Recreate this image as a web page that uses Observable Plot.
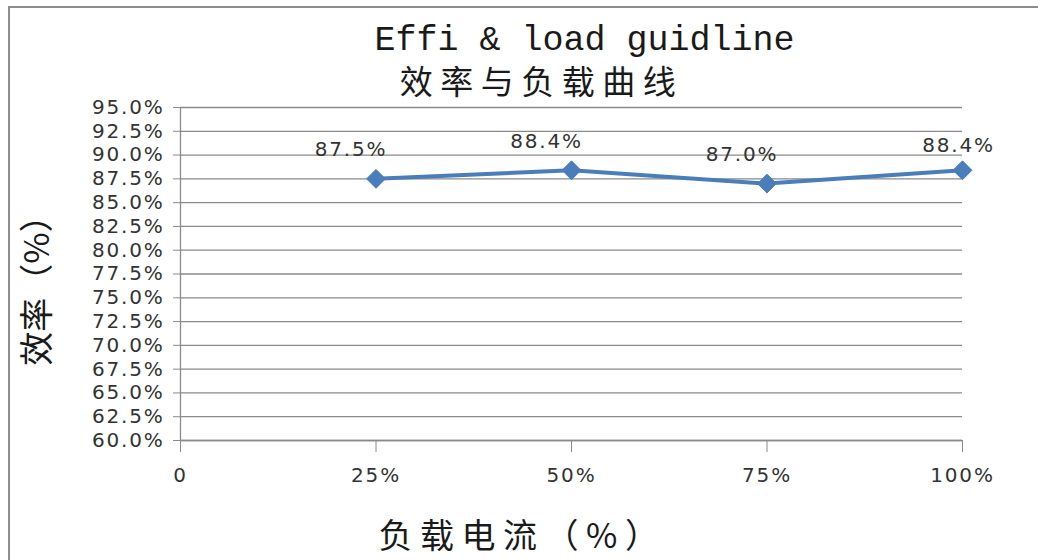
<!DOCTYPE html>
<html>
<head>
<meta charset="utf-8">
<script src="https://cdn.jsdelivr.net/npm/d3@7"></script>
<script src="https://cdn.jsdelivr.net/npm/@observablehq/plot@0.6"></script>
<style>
  html, body { margin: 0; padding: 0; background: #fff; }
  #wrap { position: relative; width: 1038px; height: 560px; overflow: hidden; }
  #frame { position: absolute; left: 8px; top: 6px; width: 1100px; height: 600px; border: 2px solid #8e8e8e; box-sizing: border-box; }
  #chart { position: absolute; left: 0; top: 0; }
  #chart svg text { letter-spacing: 1.8px; }
  #chart svg text.hsp { letter-spacing: 7.5px; }
  #chart svg text.nosp { letter-spacing: 0px; }
</style>
</head>
<body>
<div id="wrap"><div id="frame"></div><div id="chart"></div></div>
<script>
// ---- data ----
const loads = [25, 50, 75, 100];
const effs = [87.5, 88.4, 87.0, 88.4];
const xTicks = [0, 25, 50, 75, 100];
const xTickLabels = ["0", "25%", "50%", "75%", "100%"];
const yTicks = [60, 62.5, 65, 67.5, 70, 72.5, 75, 77.5, 80, 82.5, 85, 87.5, 90, 92.5, 95];
const title = "Effi & load guidline";
const subtitle = "效率与负载曲线";
const xLabel = "负载电流（%）";
const yLabel = "效率（%）";

const data = loads.map((l, i) => ({load: l, eff: effs[i], label: effs[i].toFixed(1) + "%"}));

const grid = "#8a8a8a";
const textColor = "#333333";
const blue = "#4A7EBB";

const chart = Plot.plot({
  width: 1038,
  height: 560,
  marginLeft: 180,
  marginRight: 76,
  marginTop: 107,
  marginBottom: 120,
  x: {domain: [0, 100]},
  y: {domain: [60, 95]},
  style: {fontFamily: "DejaVu Sans", fontSize: "20px", color: textColor, background: "transparent"},
  marks: [
    Plot.gridY(yTicks, {stroke: grid, strokeOpacity: 1, strokeWidth: 1.3}),
    Plot.ruleY([60], {stroke: grid, strokeWidth: 1.3}),
    Plot.ruleX([0], {stroke: grid, strokeWidth: 1.3}),
    Plot.axisY(yTicks, {
      tickSize: 7, tickPadding: 9, label: null,
      tickFormat: d => d.toFixed(1) + "%",
      stroke: grid, fill: textColor, fontSize: 20
    }),
    Plot.axisX(xTicks, {
      tickSize: 12, tickPadding: 15, label: null,
      tickFormat: d => xTickLabels[xTicks.indexOf(d)],
      stroke: grid, fill: textColor, fontSize: 20
    }),
    Plot.line(data, {x: "load", y: "eff", stroke: blue, strokeWidth: 4}),
    Plot.dot(data, {x: "load", y: "eff", symbol: "diamond2", r: 8.5, fill: blue, stroke: blue, strokeWidth: 1}),
    Plot.text(data.filter(d => d.load < 100), {x: "load", y: "eff", text: "label", dx: -25, dy: -29, fill: textColor, fontSize: 20}),
    Plot.text(data.filter(d => d.load === 100), {x: "load", y: "eff", text: "label", dx: -4, dy: -25, fill: textColor, fontSize: 20}),
    Plot.text([title], {text: d => d, frameAnchor: "top", lineAnchor: "middle", textAnchor: "middle", dx: 13, dy: -69, fontFamily: "Liberation Mono", fontSize: 35, fill: "#1a1a1a"}),
    Plot.text([subtitle], {text: d => d, frameAnchor: "top", lineAnchor: "middle", textAnchor: "middle", dx: -30, dy: -24, fontFamily: "Noto Sans CJK SC", fontSize: 33, fill: "#1a1a1a"}),
    Plot.text([xLabel], {text: d => d, frameAnchor: "bottom", lineAnchor: "middle", textAnchor: "middle", dx: -49, dy: 97, fontFamily: "Noto Sans CJK SC", fontSize: 34, fill: "#1a1a1a"}),
    Plot.text([yLabel], {text: d => d, frameAnchor: "left", lineAnchor: "middle", textAnchor: "middle", rotate: -90, dx: -142, dy: 8, fontFamily: "Noto Sans CJK JP", fontSize: 34, fill: "#1a1a1a"})
  ]
});
d3.select(chart).selectAll('g[font-family="Noto Sans CJK SC"] text').classed("hsp", true);
d3.select(chart).selectAll('g[font-family="Noto Sans CJK JP"] text, g[font-family="Liberation Mono"] text').classed("nosp", true);
document.getElementById("chart").appendChild(chart);
</script>
</body>
</html>
